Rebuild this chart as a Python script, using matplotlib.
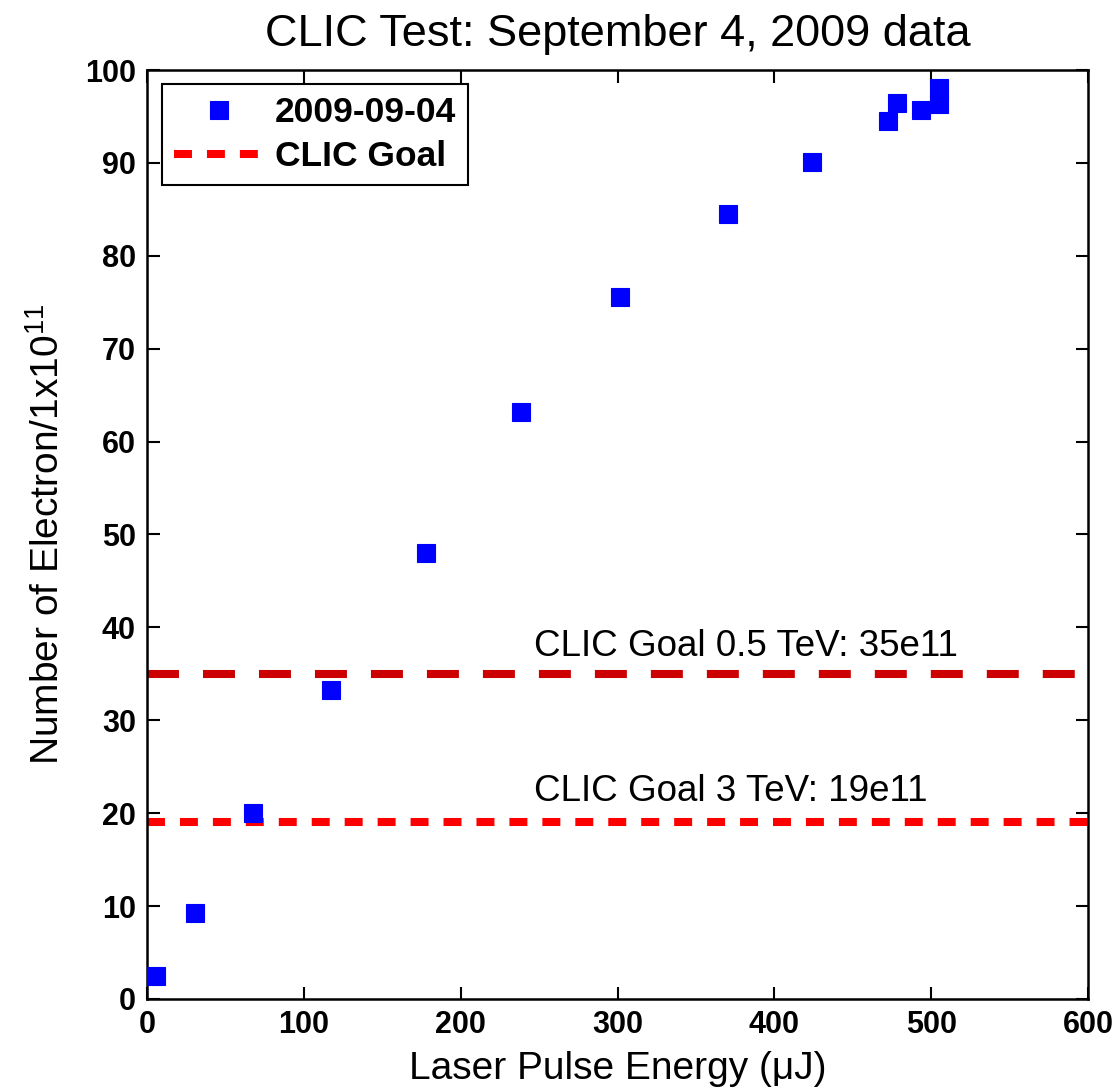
import matplotlib
matplotlib.use("Agg")
from matplotlib import pyplot as plt

# Data
energy_uj = [5.7, 30.6, 67.5, 117.5, 177.6, 238.5, 301.6, 370.7, 424.2,
             472.5, 478.4, 493.3, 505.0, 505.0]
electrons_e11 = [2.5, 9.3, 20.0, 33.3, 48.0, 63.2, 75.6, 84.5, 90.1,
                 94.5, 96.4, 95.7, 98.1, 96.3]

goal_05tev = 35
goal_3tev = 19
x_limits = [0, 600]
x_ticks = [0, 100, 200, 300, 400, 500, 600]
y_ticks = [0, 10, 20, 30, 40, 50, 60, 70, 80, 90, 100]

plt.rcParams["font.family"] = ["Liberation Sans", "DejaVu Sans"]
plt.rcParams["mathtext.default"] = "regular"

fig = plt.figure(figsize=(11.18, 10.87), dpi=100)
ax = fig.add_axes([0.1315, 0.081, 0.8417, 0.8546])

# data points
ax.plot(energy_uj, electrons_e11, linestyle="none", marker="s", markersize=13.5,
        color="#0000FF", markeredgecolor="#0000FF", markeredgewidth=0.8,
        label="2009-09-04", zorder=3)

# goal lines
ax.plot(x_limits, [goal_3tev, goal_3tev], color="#FF0000", linewidth=5.8,
        linestyle=(0, (2.23, 1.86)), label="CLIC Goal", zorder=2)
ax.plot(x_limits, [goal_05tev, goal_05tev], color="#CC0000", linewidth=5.8,
        linestyle=(0, (3.97, 2.98)), zorder=2)

ax.text(247, 36.9, "CLIC Goal 0.5 TeV: 35e11", fontsize=26.5, color="black")
ax.text(247, 21.3, "CLIC Goal 3 TeV: 19e11", fontsize=26.5, color="black")

ax.set_xlim(0, 600)
ax.set_ylim(0, 100)
ax.set_xticks(x_ticks)
ax.set_yticks(y_ticks)
ax.tick_params(direction="in", length=9, width=1.5, top=True, right=True,
               labelsize=22, pad=8)
for lab in ax.get_xticklabels() + ax.get_yticklabels():
    lab.set_fontweight("bold")
for sp in ax.spines.values():
    sp.set_linewidth(1.8)

ax.set_title("CLIC Test: September 4, 2009 data", fontsize=32.5, pad=17)
ax.set_xlabel("Laser Pulse Energy (\u03bcJ)", fontsize=28, labelpad=8)
ax.set_ylabel("Number of Electron/1x10$^{11}$", fontsize=28, labelpad=13)

leg = ax.legend(loc="upper left", bbox_to_anchor=(0.016, 0.985),
                prop={"weight": "bold", "size": 25.5}, handlelength=2.5,
                handletextpad=0.33, fancybox=False, edgecolor="black",
                framealpha=1, borderaxespad=0, borderpad=0.35,
                labelspacing=0.3)
leg.get_frame().set_linewidth(1.5)

fig.savefig("out.png", dpi=100)
